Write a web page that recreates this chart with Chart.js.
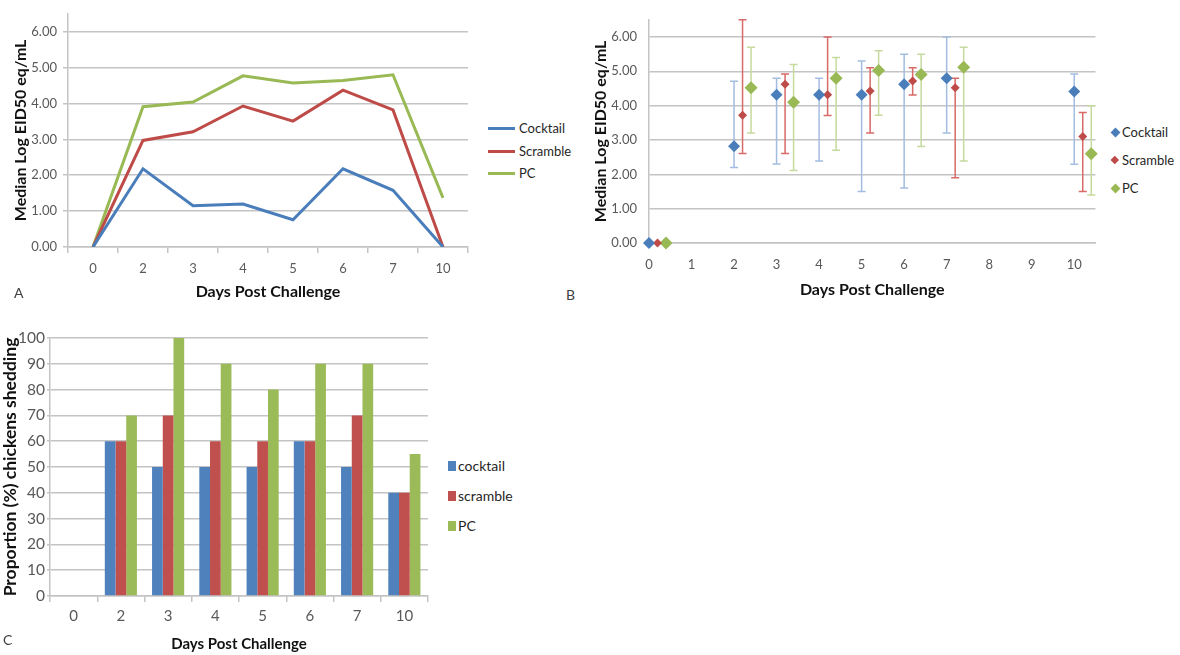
<!DOCTYPE html>
<html>
<head>
<meta charset="utf-8">
<script src="https://cdn.jsdelivr.net/npm/chart.js@4.4.0/dist/chart.umd.min.js"></script>
<style>
  body { margin: 0; background: #fff; width: 1180px; height: 655px; position: relative; overflow: hidden; font-family: Lato, sans-serif; }
  canvas { position: absolute; }
  .tag { position: absolute; font-size: 14px; color: #404040; }
  .lg { position: absolute; font-size: 13px; color: #262626; line-height: 16px; white-space: nowrap; }
  .lgc { font-size: 14px; }
  .mk { position: absolute; }
</style>
</head>
<body>
<canvas id="chartA" width="470" height="305" style="left:0;top:0"></canvas>
<canvas id="chartB" width="522" height="305" style="left:580px;top:0"></canvas>
<canvas id="chartC" width="430" height="330" style="left:0;top:325px"></canvas>
<div class="tag" style="left:14px;top:284px">A</div>
<div class="tag" style="left:566px;top:286px">B</div>
<div class="tag" style="left:3px;top:631px">C</div>
<div id="legends"></div>
<script>
// Panel A - median titres by day
const daysA = ['0', '2', '3', '4', '5', '6', '7', '10'];
const cocktailA = [0, 2.18, 1.15, 1.2, 0.76, 2.18, 1.58, 0];
const scrambleA = [0, 2.97, 3.21, 3.93, 3.51, 4.37, 3.82, 0];
const pcA = [0, 3.91, 4.04, 4.77, 4.57, 4.64, 4.8, 1.37];

// Panel B - medians with ranges (x = day, shifted per group)
const cocktailXB = [0, 2, 3, 4, 5, 6, 7, 10];
const scrambleXB = [0.2, 2.2, 3.2, 4.2, 5.2, 6.2, 7.2, 10.2];
const pcXB = [0.4, 2.4, 3.4, 4.4, 5.4, 6.4, 7.4, 10.4];
const cocktailB = [0, 2.82, 4.32, 4.32, 4.32, 4.62, 4.8, 4.41];
const cocktailLowB = [null, 2.2, 2.3, 2.39, 1.5, 1.6, 3.2, 2.29];
const cocktailHighB = [null, 4.71, 4.8, 4.8, 5.3, 5.5, 6.0, 4.92];
const scrambleB = [0, 3.72, 4.62, 4.32, 4.43, 4.72, 4.52, 3.1];
const scrambleLowB = [null, 2.61, 2.61, 3.71, 3.2, 4.31, 1.9, 1.5];
const scrambleHighB = [null, 6.5, 4.92, 6.0, 5.1, 5.1, 4.8, 3.8];
const pcB = [0, 4.52, 4.1, 4.8, 5.02, 4.91, 5.12, 2.6];
const pcLowB = [null, 3.2, 2.11, 2.7, 3.72, 2.81, 2.39, 1.4];
const pcHighB = [null, 5.7, 5.2, 5.4, 5.6, 5.5, 5.7, 4.0];

// Panel C - proportion shedding
const daysC = ['0', '2', '3', '4', '5', '6', '7', '10'];
const cocktailC = [0, 60, 50, 50, 50, 60, 50, 40];
const scrambleC = [0, 60, 70, 60, 60, 60, 70, 40];
const pcC = [0, 70, 100, 90, 80, 90, 90, 55];

const blue = '#4a7ebb', red = '#be4b48', green = '#98b954';
const barBlue = '#4f81bd', barRed = '#c0504d', barGreen = '#9bbb59';
const gridCol = '#c4c4c4';
const tickCol = '#595959';

Chart.defaults.font.family = 'Lato, sans-serif';
Chart.defaults.devicePixelRatio = 1;

const titleFont = { size: 16, weight: 'bold' };

// A: line chart
new Chart(document.getElementById('chartA'), {
    type: 'line',
    data: {
        labels: daysA,
        datasets: [
            { label: 'Cocktail', data: cocktailA, borderColor: blue, borderWidth: 3, pointRadius: 0, tension: 0 },
            { label: 'Scramble', data: scrambleA, borderColor: red, borderWidth: 3, pointRadius: 0, tension: 0 },
            { label: 'PC', data: pcA, borderColor: green, borderWidth: 3, pointRadius: 0, tension: 0 }
        ]
    },
    options: {
        responsive: false,
        animation: false,
        layout: { padding: { top: 6, right: 2, left: 0, bottom: 0 } },
        plugins: { legend: { display: false }, tooltip: { enabled: false } },
        scales: {
            x: {
                offset: true,
                afterFit(scale) { scale.height = 58; },
                grid: { offset: true, drawOnChartArea: false, drawTicks: true, tickLength: 6, color: gridCol, lineWidth: 1.5 },
                border: { color: gridCol, width: 1.5 },
                ticks: { color: tickCol, font: { size: 13 }, padding: 8 },
                title: { display: true, text: 'Days Post Challenge', color: '#111', font: titleFont, padding: { top: 4, bottom: 4 } }
            },
            y: {
                min: 0, max: 6.5,
                afterFit(scale) { scale.width = 68; },
                grid: { color: gridCol, lineWidth: 1.5, tickLength: 5 },
                border: { color: gridCol, width: 1.5 },
                ticks: { stepSize: 1, includeBounds: false, color: tickCol, font: { size: 13 }, padding: 6,
                    callback: v => v.toFixed(2) },
                title: { display: true, text: 'Median Log EID50 eq/mL', color: '#111', font: titleFont, padding: { top: 11, bottom: 0 } }
            }
        }
    }
});

// error bars drawn from the dataset's low/high arrays via the chart scales
const errorBars = {
    id: 'errorBars',
    beforeDatasetsDraw(chart) {
        const { ctx, scales: { x, y } } = chart;
        chart.data.datasets.forEach(ds => {
            if (!ds.errLow) return;
            ctx.save();
            ctx.strokeStyle = ds.errColor;
            ctx.lineWidth = 1.5;
            ds.data.forEach((p, i) => {
                const lo = ds.errLow[i], hi = ds.errHigh[i];
                if (lo == null || hi == null) return;
                const px = x.getPixelForValue(p.x);
                const yl = y.getPixelForValue(lo), yh = y.getPixelForValue(hi);
                ctx.beginPath();
                ctx.moveTo(px, yl); ctx.lineTo(px, yh);
                ctx.moveTo(px - 4, yl); ctx.lineTo(px + 4, yl);
                ctx.moveTo(px - 4, yh); ctx.lineTo(px + 4, yh);
                ctx.stroke();
            });
            ctx.restore();
        });
    }
};

const pts = (xs, ys) => xs.map((x, i) => ({ x: x, y: ys[i] }));

// B: scatter with ranges
new Chart(document.getElementById('chartB'), {
    type: 'scatter',
    data: {
        datasets: [
            { label: 'Cocktail', data: pts(cocktailXB, cocktailB), errLow: cocktailLowB, errHigh: cocktailHighB, errColor: '#a3bde0',
              pointStyle: 'rectRot', pointRadius: 6, backgroundColor: blue, borderColor: blue, borderWidth: 0, clip: false },
            { label: 'Scramble', data: pts(scrambleXB, scrambleB), errLow: scrambleLowB, errHigh: scrambleHighB, errColor: '#d86a67',
              pointStyle: 'rectRot', pointRadius: 4.5, backgroundColor: red, borderColor: red, borderWidth: 0, clip: false },
            { label: 'PC', data: pts(pcXB, pcB), errLow: pcLowB, errHigh: pcHighB, errColor: '#c6da9e',
              pointStyle: 'rectRot', pointRadius: 6.5, backgroundColor: green, borderColor: green, borderWidth: 0, clip: false }
        ]
    },
    plugins: [errorBars],
    options: {
        responsive: false,
        animation: false,
        layout: { padding: { top: 12, right: 2, left: 0, bottom: 0 } },
        plugins: { legend: { display: false }, tooltip: { enabled: false } },
        scales: {
            x: {
                type: 'linear', min: 0, max: 10.5,
                afterFit(scale) { scale.height = 62; },
                grid: { drawOnChartArea: false, drawTicks: false },
                border: { color: gridCol, width: 1.5 },
                ticks: { stepSize: 1, includeBounds: false, color: tickCol, font: { size: 13 }, padding: 14 },
                title: { display: true, text: 'Days Post Challenge', color: '#111', font: titleFont, padding: { top: 4, bottom: 6 } }
            },
            y: {
                min: 0, max: 6.5,
                afterFit(scale) { scale.width = 69; },
                grid: { color: gridCol, lineWidth: 1.5, drawTicks: false },
                border: { color: gridCol, width: 1.5 },
                ticks: { stepSize: 1, includeBounds: false, color: tickCol, font: { size: 13 }, padding: 12,
                    callback: v => v.toFixed(2) },
                title: { display: true, text: 'Median Log EID50 eq/mL', color: '#111', font: titleFont, padding: { top: 11, bottom: 0 } }
            }
        }
    }
});

// C: grouped bars
new Chart(document.getElementById('chartC'), {
    type: 'bar',
    data: {
        labels: daysC,
        datasets: [
            { label: 'cocktail', data: cocktailC, backgroundColor: barBlue },
            { label: 'scramble', data: scrambleC, backgroundColor: barRed },
            { label: 'PC', data: pcC, backgroundColor: barGreen }
        ]
    },
    options: {
        responsive: false,
        animation: false,
        layout: { padding: { top: 13, right: 2, left: 0, bottom: 0 } },
        datasets: { bar: { categoryPercentage: 0.68, barPercentage: 1 } },
        plugins: { legend: { display: false }, tooltip: { enabled: false } },
        scales: {
            x: {
                afterFit(scale) { scale.height = 59; },
                grid: { offset: true, drawOnChartArea: false, tickLength: 6, color: gridCol, lineWidth: 1.5 },
                border: { color: gridCol, width: 1.5 },
                ticks: { color: tickCol, font: { size: 15 }, padding: 5 },
                title: { display: true, text: 'Days Post Challenge', color: '#111', font: { size: 15, weight: 'bold' }, padding: { top: 2, bottom: 2 } }
            },
            y: {
                min: 0, max: 100,
                afterFit(scale) { scale.width = 50; },
                grid: { color: gridCol, lineWidth: 1.5, tickLength: 3 },
                border: { color: gridCol, width: 1.5 },
                ticks: { stepSize: 10, color: tickCol, font: { size: 15.5 }, padding: 2 },
                title: { display: true, text: 'Proportion (%) chickens shedding', color: '#111', font: { size: 17.5, weight: 'bold' }, padding: { top: 0, bottom: 0 } }
            }
        }
    }
});

// HTML legends placed to the right of each panel
const legendHost = document.getElementById('legends');
function addLegend(items, markerFn, textLeft, extraClass) {
    items.forEach(it => {
        const m = document.createElement('div');
        m.className = 'mk';
        Object.assign(m.style, markerFn(it));
        legendHost.appendChild(m);
        const t = document.createElement('div');
        t.className = 'lg' + (extraClass ? ' ' + extraClass : '');
        t.textContent = it.name;
        t.style.left = textLeft + 'px';
        t.style.top = (it.cy - 8) + 'px';
        legendHost.appendChild(t);
    });
}
addLegend([
    { name: 'Cocktail', color: blue, cy: 128 },
    { name: 'Scramble', color: red, cy: 151 },
    { name: 'PC', color: green, cy: 173 }
], it => ({ left: '488px', top: (it.cy - 1.5) + 'px', width: '27px', height: '3px', background: it.color }), 519);

addLegend([
    { name: 'Cocktail', color: blue, cy: 132, s: 7 },
    { name: 'Scramble', color: red, cy: 160, s: 5.5 },
    { name: 'PC', color: green, cy: 188, s: 7 }
], it => ({ left: (1115 - it.s / 2) + 'px', top: (it.cy - it.s / 2) + 'px', width: it.s + 'px', height: it.s + 'px',
    background: it.color, transform: 'rotate(45deg)' }), 1122);

addLegend([
    { name: 'cocktail', color: barBlue, cy: 466 },
    { name: 'scramble', color: barRed, cy: 496 },
    { name: 'PC', color: barGreen, cy: 526 }
], it => ({ left: '448px', top: (it.cy - 5) + 'px', width: '8px', height: '10px', background: it.color }), 458, 'lgc');
</script>
</body>
</html>
